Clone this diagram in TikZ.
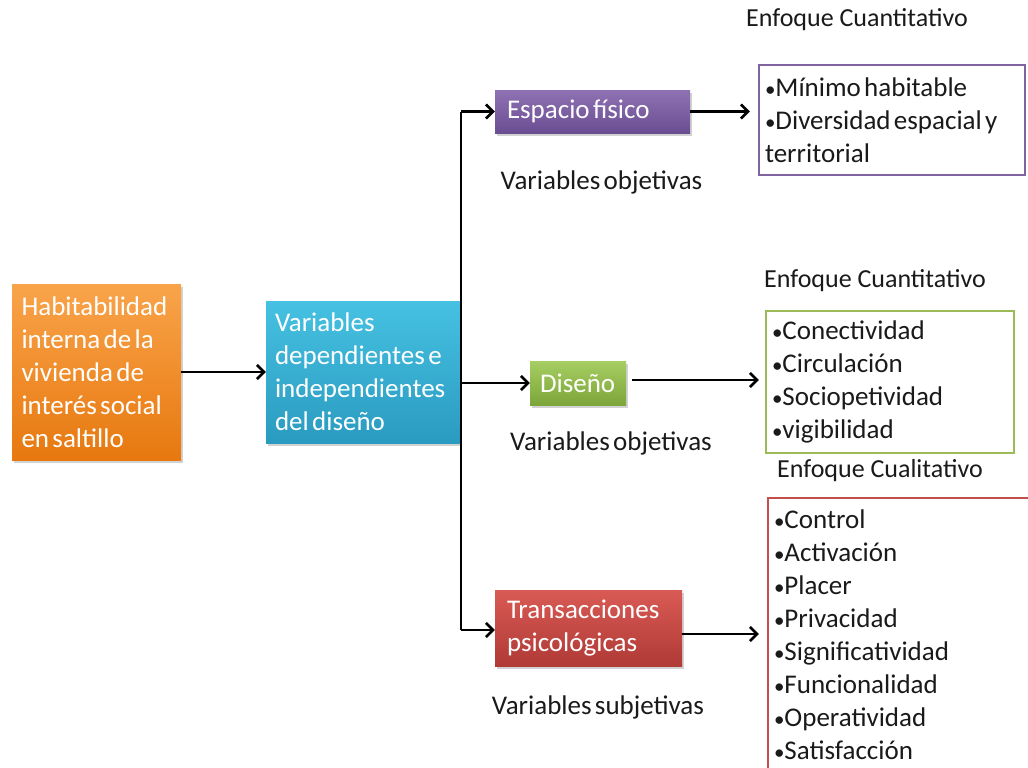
\documentclass[tikz,border=0pt]{standalone}
\usepackage{fontspec}
\setmainfont[WordSpace={0.55,0.3,0.3}]{Carlito}
\newfontfamily\headfont{Carlito}
\usetikzlibrary{arrows.meta,shadows}
\newcommand\bul{{\fontsize{21}{21}\selectfont •}}
\definecolor{txt}{HTML}{1A1A1A}
\definecolor{purpleB}{HTML}{8064A2}
\definecolor{greenB}{HTML}{9BBB59}
\definecolor{redB}{HTML}{C0504D}
\definecolor{orT}{HTML}{F9A44A}
\definecolor{orB}{HTML}{E7780F}
\definecolor{blT}{HTML}{46C1E2}
\definecolor{blB}{HTML}{2A9BC0}
\definecolor{puT}{HTML}{8F72B3}
\definecolor{puB}{HTML}{6A4E92}
\definecolor{grT}{HTML}{A6CE62}
\definecolor{grB}{HTML}{7CA53A}
\definecolor{reT}{HTML}{D95A55}
\definecolor{reB}{HTML}{B03A36}
\tikzset{
  box/.style={rectangle, inner xsep=9.5pt, inner ysep=0pt, align=flush left, text=white,
    font=\fontsize{27}{33}\selectfont,
    drop shadow={opacity=0.35, shadow xshift=2pt, shadow yshift=-3pt}},
  listbox/.style={rectangle, draw, line width=2.5pt, inner xsep=6pt, inner ysep=0pt,
    align=flush left, text=txt, font=\fontsize{27}{33}\selectfont},
  lbl/.style={text=txt, font=\fontsize{27}{30}\selectfont, inner sep=0pt},
  head/.style={text=txt, font=\headfont\fontsize{26}{30}\selectfont, inner sep=0pt},
  arr/.style={line width=2.6pt, -{Straight Barb[length=7pt,width=14pt,line width=2.6pt]}},
  ln/.style={line width=2.6pt},
}
\begin{document}
\begin{tikzpicture}[x=1pt,y=1pt]
\clip (0,0) rectangle (1028,-768);
\fill[white] (0,0) rectangle (1028,-768);

% main boxes
\node[box, top color=orT, bottom color=orB, minimum height=176pt, text width=150pt]
  (hab) at (96.5,-372) {Habitabilidad\\interna de la\\vivienda de\\interés social\\en saltillo};
\node[box, inner xsep=9pt, top color=blT, bottom color=blB, minimum height=142pt, text width=176pt]
  (var) at (363,-372) {Variables\\dependientes e\\independientes\\del diseño};

\node[box, inner xsep=12pt, top color=puT, bottom color=puB, minimum height=43pt, text width=171pt]
  (esp) at (592.5,-111.5) {Espacio físico};
\node[box, inner xsep=10pt, top color=grT, bottom color=grB, minimum height=44pt, text width=76pt]
  (dis) at (578,-383) {Diseño};
\node[box, inner xsep=12pt, top color=reT, bottom color=reB, minimum height=76pt, text width=163pt]
  (tra) at (588.5,-628) {Transacciones\\psicológicas};

% list boxes
\node[listbox, draw=purpleB, minimum height=110pt, text width=254pt]
  (l1) at (892,-120) {\bul Mínimo habitable\\\bul Diversidad espacial y\\territorial};
\node[listbox, draw=greenB, minimum height=142pt, text width=236pt]
  (l2) at (890,-382) {\bul Conectividad\\\bul Circulación\\\bul Sociopetividad\\\bul vigibilidad};
\node[listbox, draw=redB, minimum height=274pt, text width=250pt]
  (l3) at (899,-635) {\bul Control\\\bul Activación\\\bul Placer\\\bul Privacidad\\\bul Significatividad\\\bul Funcionalidad\\\bul Operatividad\\\bul Satisfacción};

% labels
\node[head] (h1) at (857,-20) {Enfoque Cuantitativo};
\node[head] (h2) at (875,-281) {Enfoque Cuantitativo};
\node[head] (h3) at (880,-471) {Enfoque Cualitativo};
\node[lbl] (v1) at (601.5,-182) {Variables objetivas};
\node[lbl] (v2) at (611,-443) {Variables objetivas};
\node[lbl] (v3) at (598,-707) {Variables subjetivas};

% connectors
\coordinate (tTop) at (461,-111.5);
\coordinate (tBot) at (461,-630);
\draw[arr] (hab.east) -- (var.west);
\draw[ln] (tTop) -- (tBot);
\draw[arr] (tTop) -- (esp.west);
\draw[arr] (tBot) -- (tra.west |- tBot);
\draw[arr] (var.east |- dis.west) -- (dis.west);
\draw[arr, shorten >=8pt] (esp.east) -- (l1.west |- esp.east);
\draw[arr, shorten <=6pt, shorten >=6pt] (dis.east |- 0,-380) -- (l2.west |- 0,-380);
\draw[arr, shorten >=8pt] (tra.east |- 0,-634) -- (l3.west |- 0,-634);
\end{tikzpicture}
\end{document}
